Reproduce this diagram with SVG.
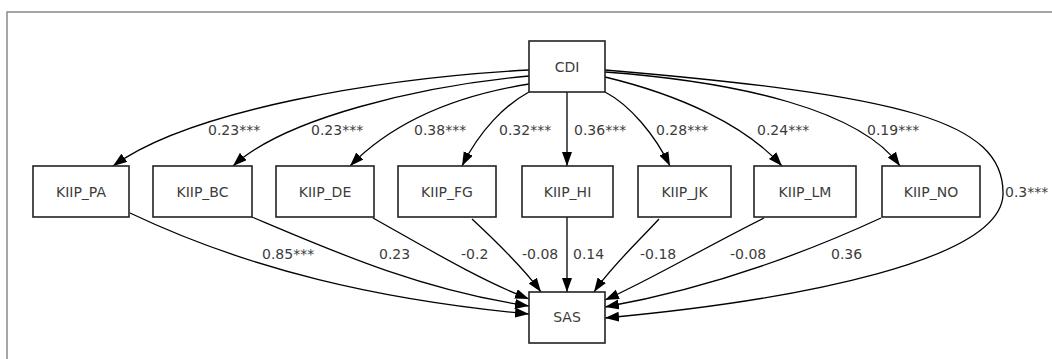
<svg xmlns="http://www.w3.org/2000/svg" width="1052" height="359" viewBox="0 0 1052 359">
<defs>
<marker id="arr" markerUnits="userSpaceOnUse" markerWidth="15" markerHeight="11" refX="14" refY="5" orient="auto">
<path d="M0,0 L14,5 L0,10 z" fill="#000"/>
</marker>
<style>
.node rect{fill:#fff;stroke:#222;stroke-width:1.6}
.node text{font-family:"DejaVu Sans","Liberation Sans",sans-serif;font-size:14px;fill:#3c3c3c;text-anchor:middle}
.edges path{fill:none;stroke:#000;stroke-width:1.3;marker-end:url(#arr)}
.lbl text{font-family:"DejaVu Sans","Liberation Sans",sans-serif;font-size:14px;fill:#3c3c3c}
.frame{fill:none;stroke:#888;stroke-width:1.5}
</style>
</defs>
<rect width="1052" height="359" fill="#fff"/>
<path class="frame" d="M7,359 L7,12 L1052,12"/>
<g class="edges">
<path d="M529,70 C380,78 190,110 113,166"/>
<path d="M529,76 C420,86 285,118 233,166"/>
<path d="M529,84 C460,95 395,120 350,166"/>
<path d="M529,92 C505,105 480,130 462,166"/>
<path d="M567,92 L567,166"/>
<path d="M605,92 C630,105 655,135 670,166"/>
<path d="M605,77 C680,95 745,125 782,166"/>
<path d="M605,72 C740,82 860,110 900,166"/>
<path d="M605,70 C900,95 1005,120 1003,195 C1000,260 800,300 605,318"/>
<path d="M130,213 C250,270 380,300 529,314"/>
<path d="M252,217 C330,250 420,290 529,306"/>
<path d="M373,218 C430,250 480,280 529,299"/>
<path d="M472,219 C500,245 525,270 541,292"/>
<path d="M567,217 L567,292"/>
<path d="M659,219 C635,245 610,268 594,292"/>
<path d="M764,218 C700,250 650,280 605,300"/>
<path d="M881,218 C790,260 700,290 605,307"/>
</g>
<g class="lbl">
<text x="208" y="135">0.23***</text>
<text x="311" y="135">0.23***</text>
<text x="414" y="135">0.38***</text>
<text x="499" y="135">0.32***</text>
<text x="574" y="135">0.36***</text>
<text x="656" y="135">0.28***</text>
<text x="757" y="135">0.24***</text>
<text x="867" y="135">0.19***</text>
<text x="1005" y="197">0.3***</text>
<text x="262" y="259">0.85***</text>
<text x="379" y="259">0.23</text>
<text x="461" y="259">-0.2</text>
<text x="522" y="259">-0.08</text>
<text x="573" y="259">0.14</text>
<text x="640" y="259">-0.18</text>
<text x="730" y="259">-0.08</text>
<text x="831" y="259">0.36</text>
</g>
<g id="CDI" class="node"><rect x="529" y="41" width="76" height="51"/><text x="567" y="72">CDI</text></g>
<g id="KIIP_PA" class="node"><rect x="33" y="166" width="96" height="51"/><text x="81" y="197">KIIP_PA</text></g>
<g id="KIIP_BC" class="node"><rect x="153" y="166" width="99" height="51"/><text x="202.5" y="197">KIIP_BC</text></g>
<g id="KIIP_DE" class="node"><rect x="276" y="166" width="98" height="51"/><text x="325" y="197">KIIP_DE</text></g>
<g id="KIIP_FG" class="node"><rect x="398" y="166" width="98" height="51"/><text x="447" y="197">KIIP_FG</text></g>
<g id="KIIP_HI" class="node"><rect x="522" y="166" width="91" height="51"/><text x="567.5" y="197">KIIP_HI</text></g>
<g id="KIIP_JK" class="node"><rect x="638" y="166" width="93" height="51"/><text x="684.5" y="197">KIIP_JK</text></g>
<g id="KIIP_LM" class="node"><rect x="754" y="166" width="102" height="51"/><text x="805" y="197">KIIP_LM</text></g>
<g id="KIIP_NO" class="node"><rect x="882" y="166" width="98" height="51"/><text x="931" y="197">KIIP_NO</text></g>
<g id="SAS" class="node"><rect x="529" y="292" width="76" height="51"/><text x="567" y="322">SAS</text></g>
</svg>
